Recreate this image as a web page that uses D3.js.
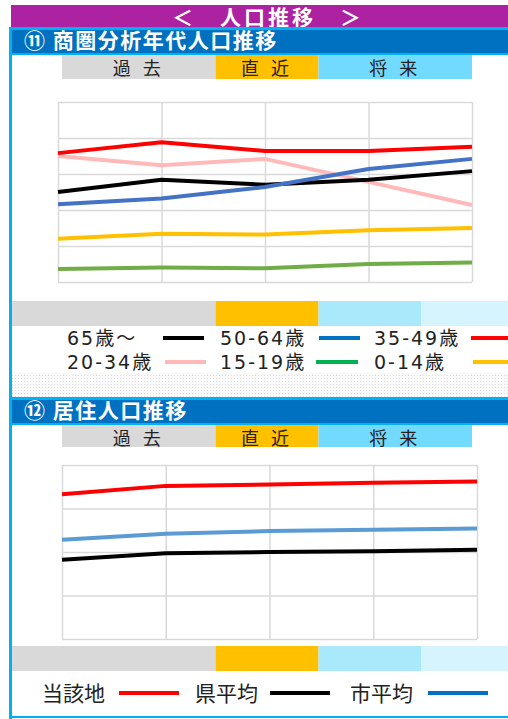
<!DOCTYPE html>
<html>
<head>
<meta charset="utf-8">
<script src="https://cdn.jsdelivr.net/npm/d3@7"></script>
<style>
  body { margin: 0; background: #fff; }
  svg { display: block; font-family: "Noto Sans CJK JP", sans-serif; }
</style>
</head>
<body>
<div id="chart"></div>
<script>
// 期間（5時点）
const periods = ['t1', 't2', 't3', 't4', 't5'];

// ⑪ 商圏分析年代人口推移（構成比 %）
const ageLabels = ['65歳～', '50-64歳', '35-49歳', '20-34歳', '15-19歳', '0-14歳'];
const age65 = [12.5, 14.2, 13.5, 14.2, 15.4];
const age50 = [10.8, 11.6, 13.2, 15.7, 17.1];
const age35 = [17.9, 19.4, 18.2, 18.2, 18.8];
const age20 = [17.5, 16.2, 17.1, 13.9, 10.7];
const age15 = [1.8, 2.0, 1.9, 2.5, 2.7];
const age00 = [6.0, 6.7, 6.6, 7.2, 7.5];
const ageTicks = [0, 5, 10, 15, 20, 25];

// ⑫ 居住人口推移
const areaLabels = ['当該地', '県平均', '市平均'];
const areaLocal = [33.3, 35.2, 35.5, 35.9, 36.2];
const areaPref = [18.2, 19.7, 20.0, 20.2, 20.5];
const areaCity = [22.8, 24.2, 24.8, 25.1, 25.4];
const areaTicks = [0, 10, 20, 30, 40];

// 期間区分
const bandLabels = ['過 去', '直 近', '将 来'];
const bandSpan = [[0, 1], [2, 2], [3, 4]];

const W = 508, H = 719;
const svg = d3.select('#chart').append('svg')
    .attr('width', W).attr('height', H);

// 期間帯の位置（両グラフ共通）
const bandX = d3.scalePoint().domain(periods).range([61, 473]);
const bstep = bandX.step();

const defs = svg.append('defs');
const pat = defs.append('pattern').attr('id', 'dots')
    .attr('width', 3).attr('height', 3).attr('patternUnits', 'userSpaceOnUse');
pat.append('rect').attr('width', 3).attr('height', 3).attr('fill', '#fafafa');
pat.append('rect').attr('width', 1).attr('height', 1).attr('fill', '#dcdcdc');

// タイトル
svg.append('rect').attr('x', 11).attr('y', 5).attr('width', W - 11).attr('height', 23).attr('fill', '#ad22a1');
svg.append('text').attr('x', 268).attr('y', 25).attr('text-anchor', 'middle')
    .attr('fill', '#fff').attr('font-size', 21).attr('font-weight', 'bold')
    .attr('letter-spacing', 3).text('＜　人口推移　＞');

// 外枠
svg.append('rect').attr('x', 9).attr('y', 27).attr('width', 3).attr('height', 692).attr('fill', '#00b0f0');
svg.append('rect').attr('x', 9).attr('y', 27).attr('width', W - 9).attr('height', 3).attr('fill', '#00b0f0');
svg.append('rect').attr('x', 9).attr('y', 716).attr('width', W - 9).attr('height', 2).attr('fill', '#00b0f0');

function header(y, label) {
    svg.append('rect').attr('x', 12).attr('y', y).attr('width', W - 12).attr('height', 23).attr('fill', '#0070c0');
    svg.append('rect').attr('x', 12).attr('y', y + 23).attr('width', W - 12).attr('height', 2).attr('fill', '#00b0f0');
    svg.append('text').attr('x', 24).attr('y', y + 18).attr('fill', '#fff')
        .attr('font-size', 21).attr('font-weight', 'bold').attr('letter-spacing', 1.5).text(label);
}

function chart(cfg) {
    const x = d3.scalePoint().domain(periods).range([cfg.left, cfg.right]);
    const y = d3.scaleLinear().domain(d3.extent(cfg.ticks)).range([cfg.bottom, cfg.top]);
    const g = svg.append('g');

    // 上部の期間帯
    const topColors = ['#d9d9d9', '#ffc000', '#72d9ff'];
    bandSpan.forEach((s, i) => {
        const x0 = i === 0 ? cfg.bandLeft : bandX(periods[s[0]]) - bstep / 2;
        const x1 = i === 2 ? cfg.bandRight : bandX(periods[s[1]]) + bstep / 2;
        g.append('rect').attr('x', x0).attr('y', cfg.bandY).attr('width', x1 - x0)
            .attr('height', cfg.bandH).attr('fill', topColors[i]);
        g.append('text').attr('x', (x0 + x1) / 2).attr('y', cfg.bandY + 20)
            .attr('text-anchor', 'middle').attr('font-size', 18).attr('fill', '#222')
            .attr('letter-spacing', 4).text(bandLabels[i]);
    });

    // グリッド
    g.append('g').attr('transform', `translate(0,${cfg.bottom})`)
        .call(d3.axisBottom(x).tickSize(cfg.top - cfg.bottom).tickFormat(''))
        .call(a => a.select('.domain').remove())
        .call(a => a.selectAll('line').attr('stroke', '#d9d9d9').attr('stroke-width', 1.5));
    g.append('g').attr('transform', `translate(${cfg.left},0)`)
        .call(d3.axisLeft(y).tickValues(cfg.ticks).tickSize(cfg.left - cfg.right).tickFormat(''))
        .call(a => a.select('.domain').remove())
        .call(a => a.selectAll('line').attr('stroke', '#d9d9d9').attr('stroke-width', 1.5));

    const line = d3.line().x((d, i) => x(periods[i])).y(d => y(d));
    cfg.series.forEach(s => {
        g.append('path').datum(s.values).attr('d', line)
            .attr('fill', 'none').attr('stroke', s.color).attr('stroke-width', 4)
            .attr('stroke-linejoin', 'round');
    });

    // 下部の期間帯
    const lowColors = ['#d9d9d9', '#ffc000', '#aae8fc', '#d6f4fd'];
    const edges = [12, bandX(periods[1]) + bstep / 2, bandX(periods[2]) + bstep / 2, bandX(periods[3]) + bstep / 2, W];
    lowColors.forEach((c, i) => {
        g.append('rect').attr('x', edges[i]).attr('y', cfg.lowY).attr('width', edges[i + 1] - edges[i])
            .attr('height', 25).attr('fill', c);
    });
}

// ⑪
header(30, '⑪ 商圏分析年代人口推移');
chart({
    left: 58, right: 472, top: 102, bottom: 282,
    bandLeft: 62, bandRight: 472, bandY: 55, bandH: 24, lowY: 301,
    ticks: ageTicks,
    series: [
        { values: age00, color: '#ffc000' },
        { values: age15, color: '#70ad47' },
        { values: age20, color: '#ffb9b9' },
        { values: age65, color: '#000000' },
        { values: age50, color: '#4472c4' },
        { values: age35, color: '#ff0000' }
    ]
});

const legend1 = [
    { label: ageLabels[0], color: '#000000', tx: 67, lx: [163, 204], ty: 338 },
    { label: ageLabels[1], color: '#0070c0', tx: 220, lx: [319, 360], ty: 338 },
    { label: ageLabels[2], color: '#ff0000', tx: 374, lx: [471, 510], ty: 338 },
    { label: ageLabels[3], color: '#ffb9b9', tx: 67, lx: [165, 206], ty: 362 },
    { label: ageLabels[4], color: '#00b050', tx: 220, lx: [316, 358], ty: 362 },
    { label: ageLabels[5], color: '#ffc000', tx: 374, lx: [473, 510], ty: 362 }
];
legend1.forEach(d => {
    svg.append('text').attr('x', d.tx).attr('y', d.ty + 7).attr('font-size', 19)
        .attr('font-family', '"DejaVu Sans", "Noto Sans CJK JP", sans-serif')
        .attr('letter-spacing', 2).attr('fill', '#222').text(d.label);
    svg.append('line').attr('x1', d.lx[0]).attr('x2', d.lx[1]).attr('y1', d.ty).attr('y2', d.ty)
        .attr('stroke', d.color).attr('stroke-width', 4);
});

svg.append('rect').attr('x', 12).attr('y', 373).attr('width', W - 12).attr('height', 24).attr('fill', 'url(#dots)');
svg.append('rect').attr('x', 12).attr('y', 397).attr('width', W - 12).attr('height', 3).attr('fill', '#00b0f0');

// ⑫
header(400, '⑫ 居住人口推移');
chart({
    left: 62, right: 477, top: 465, bottom: 639,
    bandLeft: 62, bandRight: 472, bandY: 425, bandH: 22, lowY: 646,
    ticks: areaTicks,
    series: [
        { values: areaPref, color: '#000000' },
        { values: areaCity, color: '#5b9bd5' },
        { values: areaLocal, color: '#ff0000' }
    ]
});

const legend2 = [
    { label: areaLabels[0], color: '#ff0000', tx: 42, lx: [119, 179] },
    { label: areaLabels[1], color: '#000000', tx: 195, lx: [270, 330] },
    { label: areaLabels[2], color: '#0070c0', tx: 350, lx: [428, 488] }
];
legend2.forEach(d => {
    svg.append('text').attr('x', d.tx).attr('y', 701).attr('font-size', 21)
        .attr('fill', '#222').text(d.label);
    svg.append('line').attr('x1', d.lx[0]).attr('x2', d.lx[1]).attr('y1', 693).attr('y2', 693)
        .attr('stroke', d.color).attr('stroke-width', 4);
});
</script>
</body>
</html>
